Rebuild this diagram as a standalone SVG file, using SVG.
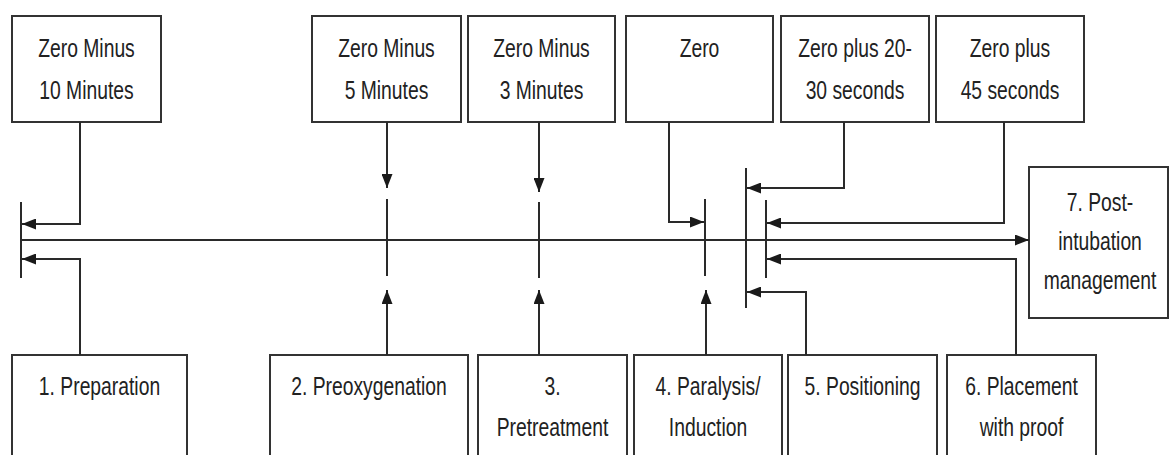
<svg xmlns="http://www.w3.org/2000/svg" width="1171" height="455" viewBox="0 0 1171 455">
<style>
.box{fill:#fff;stroke:#333;stroke-width:2}
.t{font-family:"Liberation Sans",Arial,sans-serif;font-size:21px;fill:#222;text-anchor:middle}
.c{fill:none;stroke:#2a2a2a;stroke-width:2}
</style>
<defs>
<marker id="ah" viewBox="0 0 14 11" refX="14" refY="5.5" markerWidth="14" markerHeight="11" markerUnits="userSpaceOnUse" orient="auto">
<path d="M0,0 L14,5.5 L0,11 z" fill="#1a1a1a"/>
</marker>
</defs>
<rect width="1171" height="455" fill="#fff"/>
<g id="t1"><rect class="box" x="12" y="16" width="149" height="106"/>
<text class="t" transform="translate(86.5,57) scale(0.92,1.24)">Zero Minus</text>
<text class="t" transform="translate(86.5,99) scale(0.92,1.24)">10 Minutes</text></g>
<g id="t2"><rect class="box" x="312" y="16" width="149" height="106"/>
<text class="t" transform="translate(386.5,57) scale(0.92,1.24)">Zero Minus</text>
<text class="t" transform="translate(386.5,99) scale(0.92,1.24)">5 Minutes</text></g>
<g id="t3"><rect class="box" x="468" y="16" width="147" height="106"/>
<text class="t" transform="translate(541.5,57) scale(0.92,1.24)">Zero Minus</text>
<text class="t" transform="translate(541.5,99) scale(0.92,1.24)">3 Minutes</text></g>
<g id="t4"><rect class="box" x="626" y="16" width="147" height="106"/>
<text class="t" transform="translate(699.5,57) scale(0.92,1.24)">Zero</text></g>
<g id="t5"><rect class="box" x="781" y="16" width="148" height="106"/>
<text class="t" transform="translate(855,57) scale(0.92,1.24)">Zero plus 20-</text>
<text class="t" transform="translate(855,99) scale(0.92,1.24)">30 seconds</text></g>
<g id="t6"><rect class="box" x="936" y="16" width="148" height="106"/>
<text class="t" transform="translate(1010,57) scale(0.92,1.24)">Zero plus</text>
<text class="t" transform="translate(1010,99) scale(0.92,1.24)">45 seconds</text></g>
<g id="s7"><rect class="box" x="1029" y="167" width="139" height="151"/>
<text class="t" transform="translate(1100,211) scale(0.92,1.24)">7. Post-</text>
<text class="t" transform="translate(1100,250) scale(0.92,1.24)">intubation</text>
<text class="t" transform="translate(1100,289) scale(0.92,1.24)">management</text></g>
<g id="s1"><rect class="box" x="12" y="355" width="175" height="115"/>
<text class="t" transform="translate(99.5,395) scale(0.92,1.24)">1. Preparation</text></g>
<g id="s2"><rect class="box" x="270" y="355" width="198" height="115"/>
<text class="t" transform="translate(369,395) scale(0.92,1.24)">2. Preoxygenation</text></g>
<g id="s3"><rect class="box" x="478" y="355" width="149" height="115"/>
<text class="t" transform="translate(552.5,395) scale(0.92,1.24)">3.</text>
<text class="t" transform="translate(552.5,436) scale(0.92,1.24)">Pretreatment</text></g>
<g id="s4"><rect class="box" x="634" y="355" width="148" height="115"/>
<text class="t" transform="translate(708,395) scale(0.92,1.24)">4. Paralysis/</text>
<text class="t" transform="translate(708,436) scale(0.92,1.24)">Induction</text></g>
<g id="s5"><rect class="box" x="788" y="355" width="149" height="115"/>
<text class="t" transform="translate(862.5,395) scale(0.92,1.24)">5. Positioning</text></g>
<g id="s6"><rect class="box" x="947" y="355" width="149" height="115"/>
<text class="t" transform="translate(1021.5,395) scale(0.92,1.24)">6. Placement</text>
<text class="t" transform="translate(1021.5,436) scale(0.92,1.24)">with proof</text></g>
<g id="connectors">
<path class="c" d="M21,202 V278"/>
<path class="c" d="M21,240 H1029" marker-end="url(#ah)"/>
<path class="c" d="M80,122 V224 H22" marker-end="url(#ah)"/>
<path class="c" d="M80,355 V259 H22" marker-end="url(#ah)"/>
<path class="c" d="M387,122 V188" marker-end="url(#ah)"/>
<path class="c" d="M387,199 V276"/>
<path class="c" d="M387,355 V290" marker-end="url(#ah)"/>
<path class="c" d="M539,122 V192" marker-end="url(#ah)"/>
<path class="c" d="M539,202 V278"/>
<path class="c" d="M539,355 V290" marker-end="url(#ah)"/>
<path class="c" d="M669,122 V222 H704" marker-end="url(#ah)"/>
<path class="c" d="M705,199 V276"/>
<path class="c" d="M706,355 V290" marker-end="url(#ah)"/>
<path class="c" d="M746,168 V308"/>
<path class="c" d="M844,122 V188 H747" marker-end="url(#ah)"/>
<path class="c" d="M806,355 V292 H747" marker-end="url(#ah)"/>
<path class="c" d="M766,200 V278"/>
<path class="c" d="M1004,122 V223 H767" marker-end="url(#ah)"/>
<path class="c" d="M1016,355 V259 H767" marker-end="url(#ah)"/>
</g>
</svg>
